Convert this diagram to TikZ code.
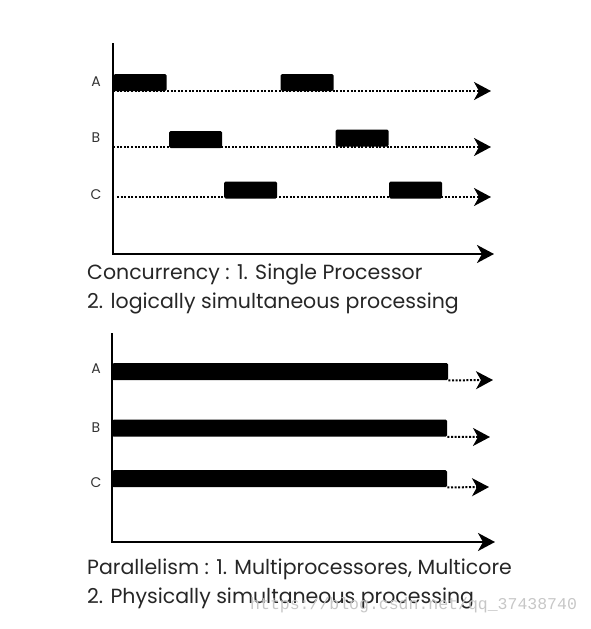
\documentclass[tikz,border=0pt]{standalone}
\usepackage{fontspec}
\setmainfont{Poppins}
\newfontfamily\markfont{Liberation Mono}
\usetikzlibrary{arrows.meta, positioning}

\tikzset{
    slice/.style={fill=black, rounded corners=1.5pt, inner sep=0pt, minimum width=53pt, minimum height=17pt},
    run/.style={fill=black, rounded corners=1.5pt, inner sep=0pt, minimum width=336pt, minimum height=17pt, anchor=north west},
    timeline/.style={line width=2pt, dash pattern=on 2pt off 1.6pt, -{Stealth[length=17pt, width=18pt, inset=5pt]}},
    axis/.style={line width=2.2pt, -{Stealth[length=17pt, width=18pt, inset=5pt]}},
    tag/.style={font=\fontsize{14}{14}\selectfont, text=black!80},
    caption/.style={anchor=base west, inner sep=0pt, font=\fontsize{20.5}{20.5}\selectfont, text=black!85}
}

\begin{document}
\begin{tikzpicture}[x=1pt, y=-1pt]
    \useasboundingbox (0,0) rectangle (591,629);

    % Concurrency chart
    \coordinate (o1) at (113,254);
    \coordinate (y1) at (113,43);
    \coordinate (x1) at (494,254);
    \node[tag] (la1) at (96,82) {A};
    \node[tag] (lb1) at (96,138) {B};
    \node[tag] (lc1) at (96,195) {C};
    \coordinate (sa) at (113,91);   \coordinate (ea) at (491,91);
    \coordinate (sb) at (113,147);  \coordinate (eb) at (491,147);
    \coordinate (sc) at (117,197);  \coordinate (ec) at (491,197);
    \draw[timeline] (sa) -- (ea);
    \draw[timeline] (sb) -- (eb);
    \draw[timeline] (sc) -- (ec);
    \node[slice] (a1) at (140,82.5) {};
    \node[slice] (a2) at (307,82.5) {};
    \node[slice] (b1) at (195.5,139.5) {};
    \node[slice] (b2) at (362,138) {};
    \node[slice] (c1) at (250.5,190) {};
    \node[slice] (c2) at (415.5,190) {};
    \draw[axis] (y1) |- (x1);
    \node[caption] (t1) at (87,279) {Concurrency : 1. Single Processor};
    \node[caption] (t2) at (87,308) {2. logically simultaneous processing};

    % Parallelism chart
    \coordinate (o2) at (112,542);
    \coordinate (y2) at (112,333);
    \coordinate (x2) at (495,542);
    \node[tag] (la2) at (96,369) {A};
    \node[tag] (lb2) at (96,428) {B};
    \node[tag] (lc2) at (96,483) {C};
    \node[run] (pa) at (112,363) {};
    \node[run, minimum width=335pt] (pb) at (112,419.5) {};
    \node[run, minimum width=335pt] (pc) at (112,470) {};
    \coordinate (ta) at (493,380);
    \coordinate (tb) at (490,437);
    \coordinate (tc) at (489,487);
    \draw[timeline] (pa.south east) -- (ta);
    \draw[timeline] (pb.south east) -- (tb);
    \draw[timeline] (pc.south east) -- (tc);
    \draw[axis] (y2) |- (x2);
    \node[caption] (t3) at (87,574) {Parallelism : 1. Multiprocessores, Multicore};
    \node[caption] (t4) at (87,603) {2. Physically simultaneous processing};
    \node[anchor=base west, inner sep=0pt, text=black!22, font=\markfont\fontsize{16.5}{16.5}\selectfont] (wm) at (250,609) {https://blog.csdn.net/qq\_37438740};
\end{tikzpicture}
\end{document}
